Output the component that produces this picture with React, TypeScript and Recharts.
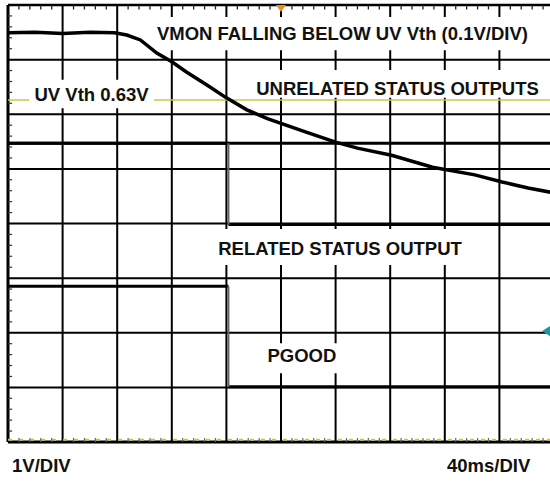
import {
  CartesianGrid,
  Label,
  Line,
  LineChart,
  ReferenceArea,
  ReferenceDot,
  ReferenceLine,
  XAxis,
  YAxis
} from "recharts";

// time in ms (40ms/DIV), level in screen divisions counted from the bottom edge
const vmonTime = [0, 20, 40, 60, 78, 87, 97, 109, 120, 131, 146, 160, 175, 190, 220, 240, 256, 281, 311, 342, 362, 381, 400];
const vmonLevel = [7.49, 7.5, 7.48, 7.5, 7.49, 7.45, 7.36, 7.12, 6.96, 6.77, 6.53, 6.3, 6.08, 5.92, 5.66, 5.49, 5.38, 5.25, 5.03, 4.89, 4.76, 4.65, 4.56];

const unrelatedTime = [0, 400];
const unrelatedLevel = [5.47, 5.47];

const edgeTime = 161.5;
const relatedHigh = 5.47;
const relatedLow = 3.98;
const pgoodHigh = 2.85;
const pgoodLow = 1.01;

const uvThreshold = 6.26;
const groundLevel = 0.04;

const xMajor = [0, 40, 80, 120, 160, 200, 240, 280, 320, 360, 400];
const yMajor = [0, 1, 2, 3, 4, 5, 6, 7, 8];
// minor graticule marks, 5 per division
const xMinor = Array.from({ length: 50 }, (_, i) => i * 8).filter((t) => t % 40 !== 0);
const yMinor = Array.from({ length: 40 }, (_, i) => +(i * 0.2).toFixed(1)).filter((v) => v % 1 !== 0);

const toPoints = (t: number[], v: number[]) => t.map((time, i) => ({ t: time, v: v[i] }));

const vmon = toPoints(vmonTime, vmonLevel);
const unrelated = toPoints(unrelatedTime, unrelatedLevel);
const relatedA = toPoints([0, edgeTime], [relatedHigh, relatedHigh]);
const relatedB = toPoints([edgeTime, 400], [relatedLow, relatedLow]);
const relatedEdge = toPoints([edgeTime, edgeTime], [relatedHigh, relatedLow]);
const pgoodA = toPoints([0, edgeTime], [pgoodHigh, pgoodHigh]);
const pgoodB = toPoints([edgeTime, 400], [pgoodLow, pgoodLow]);
const pgoodEdge = toPoints([edgeTime, edgeTime], [pgoodHigh, pgoodLow]);

const notes = [
  { text: "VMON FALLING BELOW UV Vth (0.1V/DIV)", x1: 103.5, x2: 386.5, y1: 7.17, y2: 7.78, shift: 0, front: false },
  { text: "UV Vth 0.63V", x1: 15.4, x2: 107, y1: 6.11, y2: 6.63, shift: 0, front: true },
  { text: "UNRELATED STATUS OUTPUTS", x1: 178.8, x2: 391.9, y1: 6.3, y2: 6.81, shift: 4.5, front: true },
  { text: "RELATED STATUS OUTPUT", x1: 149.5, x2: 337, y1: 3.24, y2: 3.9, shift: 1, front: true },
  { text: "PGOOD", x1: 186, x2: 244.7, y1: 1.26, y2: 1.81, shift: -3, front: true }
];

const font = "'Liberation Sans', Arial, Helvetica, sans-serif";

function NoteText(props: any) {
  const { viewBox, value, shift = 0 } = props;
  if (!viewBox) return null;
  const { x, y, width, height } = viewBox;
  return (
    <text
      x={x + width / 2}
      y={y + height / 2 + shift + 6.6}
      textAnchor="middle"
      fontFamily={font}
      fontSize={18.5}
      fontWeight={700}
      fill="#111"
    >
      {value}
    </text>
  );
}

const triangleDown = (props: any) => {
  const { cx, cy } = props;
  return <path d={`M${cx - 5},${cy} L${cx + 5},${cy} L${cx},${cy + 7} Z`} fill="#f08a1c" />;
};

const triangleLeft = (props: any) => {
  const { cx, cy } = props;
  return <path d={`M${cx - 5},${cy} L${cx + 4},${cy - 6} L${cx + 4},${cy + 6} Z`} fill="#1a9aa0" />;
};

const tickDown = (props: any) => {
  const { cx, cy } = props;
  return <line x1={cx} y1={cy} x2={cx} y2={cy + 4.5} stroke="#222" strokeWidth={1.3} />;
};

const tickUp = (props: any) => {
  const { cx, cy } = props;
  return <line x1={cx} y1={cy} x2={cx} y2={cy - 4} stroke="#666" strokeWidth={1.2} />;
};

const footStyle: React.CSSProperties = {
  position: "absolute",
  top: 457,
  fontFamily: font,
  fontSize: 18.5,
  fontWeight: 700,
  lineHeight: "18px",
  color: "#111",
  whiteSpace: "nowrap"
};

export default function App() {
  const trace = { type: "linear" as const, dot: false, isAnimationActive: false, dataKey: "v" };
  const tickLenX = 3; // in ms

  return (
    <div
      style={{
        position: "fixed",
        left: 0,
        top: 0,
        width: 550,
        height: 481,
        overflow: "hidden",
        background: "#fff"
      }}
    >
      <LineChart width={556} height={481} margin={{ top: 5, right: 2, bottom: 39, left: 8 }}>
        <CartesianGrid stroke="#000" strokeWidth={2} />
        <XAxis dataKey="t" type="number" domain={[0, 400]} ticks={xMajor} hide allowDuplicatedCategory={false} />
        <YAxis type="number" domain={[0, 8]} ticks={yMajor} hide />

        <ReferenceLine x={0} stroke="#000" strokeWidth={3} zIndex={-50} />
        <ReferenceLine y={8} stroke="#000" strokeWidth={2.5} zIndex={-50} />
        <ReferenceLine y={0} stroke="#000" strokeWidth={3} zIndex={-50} />
        <ReferenceLine y={uvThreshold} stroke="#c9c64c" strokeWidth={1.5} zIndex={-40} />
        <ReferenceLine y={groundLevel} stroke="#c9c64c" strokeWidth={2} strokeDasharray="4 7" zIndex={-40} />

        {yMinor.map((v) => (
          <ReferenceLine
            key={`left-${v}`}
            segment={[{ x: 0, y: v }, { x: tickLenX, y: v }]}
            stroke="#333"
            strokeWidth={1.2}
            ifOverflow="visible"
            zIndex={-30}
          />
        ))}

        <Line {...trace} data={unrelated} stroke="#000" strokeWidth={3} />
        <Line {...trace} data={relatedA} stroke="#000" strokeWidth={3} />
        <Line {...trace} data={relatedB} stroke="#000" strokeWidth={3} />
        <Line {...trace} data={relatedEdge} stroke="#666" strokeWidth={2} />
        <Line {...trace} data={pgoodA} stroke="#000" strokeWidth={3} />
        <Line {...trace} data={pgoodB} stroke="#000" strokeWidth={3} />
        <Line {...trace} data={pgoodEdge} stroke="#666" strokeWidth={2} />
        <Line {...trace} data={vmon} stroke="#000" strokeWidth={3.5} />

        {notes.map((n) => (
          <ReferenceArea
            key={n.text}
            x1={n.x1}
            x2={n.x2}
            y1={n.y1}
            y2={n.y2}
            fill="#fff"
            fillOpacity={1}
            stroke="none"
            zIndex={n.front ? 450 : 90}
          >
            <Label value={n.text} content={<NoteText shift={n.shift} />} />
          </ReferenceArea>
        ))}

        {xMinor.map((t) => (
          <ReferenceDot key={`top-${t}`} x={t} y={8} r={2} shape={tickDown} ifOverflow="visible" />
        ))}
        {xMinor.map((t) => (
          <ReferenceDot key={`bot-${t}`} x={t} y={0} r={2} shape={tickUp} ifOverflow="visible" />
        ))}

        <ReferenceDot x={200} y={8} r={5} shape={triangleDown} ifOverflow="visible" />
        <ReferenceDot x={395} y={2.03} r={5} shape={triangleLeft} ifOverflow="visible" />
      </LineChart>
      <div style={{ ...footStyle, left: 12 }}>1V/DIV</div>
      <div style={{ ...footStyle, left: 447 }}>40ms/DIV</div>
    </div>
  );
}
